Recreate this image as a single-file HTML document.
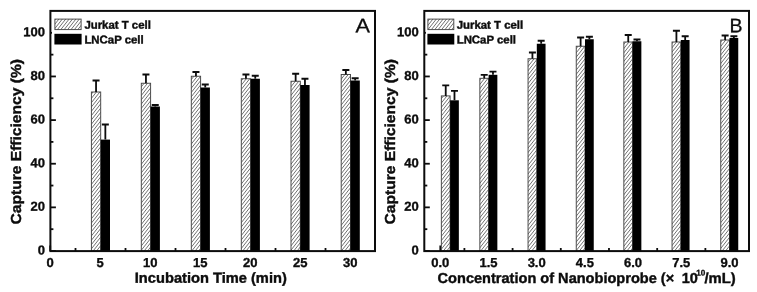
<!DOCTYPE html>
<html><head><meta charset="utf-8"><title>Capture efficiency</title>
<style>
html,body{margin:0;padding:0;background:#fff;}
svg{display:block;font-family:"Liberation Sans",Arial,sans-serif;text-rendering:geometricPrecision;filter:blur(0.4px);}
.tk{font-size:13px;font-weight:bold;fill:#0c0c0c;stroke:#0c0c0c;stroke-width:0.35px;}
.ti{font-size:14.5px;font-weight:bold;fill:#0c0c0c;stroke:#0c0c0c;stroke-width:0.4px;}
.lg{font-size:11.4px;font-weight:bold;fill:#0c0c0c;stroke:#0c0c0c;stroke-width:0.4px;}
.pl{font-size:19.5px;fill:#0c0c0c;stroke:#0c0c0c;stroke-width:0.3px;}
</style></head><body>
<svg width="757" height="292" viewBox="0 0 757 292">
<rect width="757" height="292" fill="#fff"/>

<path d="M50.4 251.00h5.5" stroke="#0c0c0c" stroke-width="1.8"/>
<path d="M50.4 229.18h3" stroke="#0c0c0c" stroke-width="1.8"/>
<path d="M50.4 207.36h5.5" stroke="#0c0c0c" stroke-width="1.8"/>
<path d="M50.4 185.55h3" stroke="#0c0c0c" stroke-width="1.8"/>
<path d="M50.4 163.73h5.5" stroke="#0c0c0c" stroke-width="1.8"/>
<path d="M50.4 141.91h3" stroke="#0c0c0c" stroke-width="1.8"/>
<path d="M50.4 120.09h5.5" stroke="#0c0c0c" stroke-width="1.8"/>
<path d="M50.4 98.27h3" stroke="#0c0c0c" stroke-width="1.8"/>
<path d="M50.4 76.45h5.5" stroke="#0c0c0c" stroke-width="1.8"/>
<path d="M50.4 54.64h3" stroke="#0c0c0c" stroke-width="1.8"/>
<path d="M50.4 32.82h5.5" stroke="#0c0c0c" stroke-width="1.8"/>
<path d="M50.20 251v-5.5" stroke="#0c0c0c" stroke-width="1.8"/>
<path d="M100.20 251v-5.5" stroke="#0c0c0c" stroke-width="1.8"/>
<path d="M150.20 251v-5.5" stroke="#0c0c0c" stroke-width="1.8"/>
<path d="M200.20 251v-5.5" stroke="#0c0c0c" stroke-width="1.8"/>
<path d="M250.20 251v-5.5" stroke="#0c0c0c" stroke-width="1.8"/>
<path d="M300.20 251v-5.5" stroke="#0c0c0c" stroke-width="1.8"/>
<path d="M350.20 251v-5.5" stroke="#0c0c0c" stroke-width="1.8"/>
<path d="M75.50 251v-3" stroke="#0c0c0c" stroke-width="1.8"/>
<path d="M125.50 251v-3" stroke="#0c0c0c" stroke-width="1.8"/>
<path d="M175.50 251v-3" stroke="#0c0c0c" stroke-width="1.8"/>
<path d="M225.50 251v-3" stroke="#0c0c0c" stroke-width="1.8"/>
<path d="M275.50 251v-3" stroke="#0c0c0c" stroke-width="1.8"/>
<path d="M325.50 251v-3" stroke="#0c0c0c" stroke-width="1.8"/>
<path d="M424.3 251.00h5.5" stroke="#0c0c0c" stroke-width="1.8"/>
<path d="M424.3 229.18h3" stroke="#0c0c0c" stroke-width="1.8"/>
<path d="M424.3 207.36h5.5" stroke="#0c0c0c" stroke-width="1.8"/>
<path d="M424.3 185.55h3" stroke="#0c0c0c" stroke-width="1.8"/>
<path d="M424.3 163.73h5.5" stroke="#0c0c0c" stroke-width="1.8"/>
<path d="M424.3 141.91h3" stroke="#0c0c0c" stroke-width="1.8"/>
<path d="M424.3 120.09h5.5" stroke="#0c0c0c" stroke-width="1.8"/>
<path d="M424.3 98.27h3" stroke="#0c0c0c" stroke-width="1.8"/>
<path d="M424.3 76.45h5.5" stroke="#0c0c0c" stroke-width="1.8"/>
<path d="M424.3 54.64h3" stroke="#0c0c0c" stroke-width="1.8"/>
<path d="M424.3 32.82h5.5" stroke="#0c0c0c" stroke-width="1.8"/>
<path d="M440.30 251v-5.5" stroke="#0c0c0c" stroke-width="1.8"/>
<path d="M488.50 251v-5.5" stroke="#0c0c0c" stroke-width="1.8"/>
<path d="M536.69 251v-5.5" stroke="#0c0c0c" stroke-width="1.8"/>
<path d="M584.88 251v-5.5" stroke="#0c0c0c" stroke-width="1.8"/>
<path d="M633.08 251v-5.5" stroke="#0c0c0c" stroke-width="1.8"/>
<path d="M681.28 251v-5.5" stroke="#0c0c0c" stroke-width="1.8"/>
<path d="M729.47 251v-5.5" stroke="#0c0c0c" stroke-width="1.8"/>
<path d="M464.40 251v-3" stroke="#0c0c0c" stroke-width="1.8"/>
<path d="M512.59 251v-3" stroke="#0c0c0c" stroke-width="1.8"/>
<path d="M560.79 251v-3" stroke="#0c0c0c" stroke-width="1.8"/>
<path d="M608.98 251v-3" stroke="#0c0c0c" stroke-width="1.8"/>
<path d="M657.18 251v-3" stroke="#0c0c0c" stroke-width="1.8"/>
<path d="M705.37 251v-3" stroke="#0c0c0c" stroke-width="1.8"/>
<rect x="52.00" y="16" width="104.60" height="31" fill="#fff"/>
<rect x="425.90" y="16" width="103.00" height="31" fill="#fff"/>
<rect x="91.40" y="92.00" width="9.30" height="159.00" fill="#fff"/>
<rect x="141.30" y="83.25" width="9.30" height="167.75" fill="#fff"/>
<rect x="191.30" y="76.25" width="9.30" height="174.75" fill="#fff"/>
<rect x="241.30" y="78.75" width="9.30" height="172.25" fill="#fff"/>
<rect x="291.00" y="81.25" width="9.30" height="169.75" fill="#fff"/>
<rect x="341.20" y="74.50" width="9.30" height="176.50" fill="#fff"/>
<rect x="54.90" y="19.10" width="26.20" height="10.50" fill="#fff"/>
<rect x="441.35" y="95.90" width="8.75" height="155.10" fill="#fff"/>
<rect x="479.85" y="78.30" width="8.75" height="172.70" fill="#fff"/>
<rect x="528.05" y="58.75" width="8.75" height="192.25" fill="#fff"/>
<rect x="576.25" y="46.25" width="8.75" height="204.75" fill="#fff"/>
<rect x="623.85" y="42.00" width="8.75" height="209.00" fill="#fff"/>
<rect x="672.05" y="42.00" width="8.75" height="209.00" fill="#fff"/>
<rect x="720.75" y="40.00" width="8.75" height="211.00" fill="#fff"/>
<rect x="427.90" y="19.10" width="25.90" height="10.50" fill="#fff"/>
<defs><clipPath id="hc">
<rect x="91.40" y="92.00" width="9.30" height="159.00"/>
<rect x="141.30" y="83.25" width="9.30" height="167.75"/>
<rect x="191.30" y="76.25" width="9.30" height="174.75"/>
<rect x="241.30" y="78.75" width="9.30" height="172.25"/>
<rect x="291.00" y="81.25" width="9.30" height="169.75"/>
<rect x="341.20" y="74.50" width="9.30" height="176.50"/>
<rect x="54.90" y="19.10" width="26.20" height="10.50"/>
<rect x="441.35" y="95.90" width="8.75" height="155.10"/>
<rect x="479.85" y="78.30" width="8.75" height="172.70"/>
<rect x="528.05" y="58.75" width="8.75" height="192.25"/>
<rect x="576.25" y="46.25" width="8.75" height="204.75"/>
<rect x="623.85" y="42.00" width="8.75" height="209.00"/>
<rect x="672.05" y="42.00" width="8.75" height="209.00"/>
<rect x="720.75" y="40.00" width="8.75" height="211.00"/>
<rect x="427.90" y="19.10" width="25.90" height="10.50"/>
</clipPath></defs>
<path clip-path="url(#hc)" d="M-159.3 252l199.3 -252M-155.9 252l199.3 -252M-152.5 252l199.3 -252M-149.1 252l199.3 -252M-145.7 252l199.3 -252M-142.3 252l199.3 -252M-138.9 252l199.3 -252M-135.5 252l199.3 -252M-132.1 252l199.3 -252M-128.7 252l199.3 -252M-125.3 252l199.3 -252M-121.9 252l199.3 -252M-118.5 252l199.3 -252M-115.1 252l199.3 -252M-111.7 252l199.3 -252M-108.3 252l199.3 -252M-104.9 252l199.3 -252M-101.5 252l199.3 -252M-98.1 252l199.3 -252M-94.7 252l199.3 -252M-91.3 252l199.3 -252M-87.9 252l199.3 -252M-84.5 252l199.3 -252M-81.1 252l199.3 -252M-77.7 252l199.3 -252M-74.3 252l199.3 -252M-70.9 252l199.3 -252M-67.5 252l199.3 -252M-64.1 252l199.3 -252M-60.7 252l199.3 -252M-57.3 252l199.3 -252M-53.9 252l199.3 -252M-50.5 252l199.3 -252M-47.1 252l199.3 -252M-43.7 252l199.3 -252M-40.3 252l199.3 -252M-36.9 252l199.3 -252M-33.5 252l199.3 -252M-30.1 252l199.3 -252M-26.7 252l199.3 -252M-23.3 252l199.3 -252M-19.9 252l199.3 -252M-16.5 252l199.3 -252M-13.1 252l199.3 -252M-9.7 252l199.3 -252M-6.3 252l199.3 -252M-2.9 252l199.3 -252M0.5 252l199.3 -252M3.9 252l199.3 -252M7.3 252l199.3 -252M10.7 252l199.3 -252M14.1 252l199.3 -252M17.5 252l199.3 -252M20.9 252l199.3 -252M24.3 252l199.3 -252M27.7 252l199.3 -252M31.1 252l199.3 -252M34.5 252l199.3 -252M37.9 252l199.3 -252M41.3 252l199.3 -252M44.7 252l199.3 -252M48.1 252l199.3 -252M51.5 252l199.3 -252M54.9 252l199.3 -252M58.3 252l199.3 -252M61.7 252l199.3 -252M65.1 252l199.3 -252M68.5 252l199.3 -252M71.9 252l199.3 -252M75.3 252l199.3 -252M78.7 252l199.3 -252M82.1 252l199.3 -252M85.5 252l199.3 -252M88.9 252l199.3 -252M92.3 252l199.3 -252M95.7 252l199.3 -252M99.1 252l199.3 -252M102.5 252l199.3 -252M105.9 252l199.3 -252M109.3 252l199.3 -252M112.7 252l199.3 -252M116.1 252l199.3 -252M119.5 252l199.3 -252M122.9 252l199.3 -252M126.3 252l199.3 -252M129.7 252l199.3 -252M133.1 252l199.3 -252M136.5 252l199.3 -252M139.9 252l199.3 -252M143.3 252l199.3 -252M146.7 252l199.3 -252M150.1 252l199.3 -252M153.5 252l199.3 -252M156.9 252l199.3 -252M160.3 252l199.3 -252M163.7 252l199.3 -252M167.1 252l199.3 -252M170.5 252l199.3 -252M173.9 252l199.3 -252M177.3 252l199.3 -252M180.7 252l199.3 -252M184.1 252l199.3 -252M187.5 252l199.3 -252M190.9 252l199.3 -252M194.3 252l199.3 -252M197.7 252l199.3 -252M201.1 252l199.3 -252M204.5 252l199.3 -252M207.9 252l199.3 -252M211.3 252l199.3 -252M214.7 252l199.3 -252M218.1 252l199.3 -252M221.5 252l199.3 -252M224.9 252l199.3 -252M228.3 252l199.3 -252M231.7 252l199.3 -252M235.1 252l199.3 -252M238.5 252l199.3 -252M241.9 252l199.3 -252M245.3 252l199.3 -252M248.7 252l199.3 -252M252.1 252l199.3 -252M255.5 252l199.3 -252M258.9 252l199.3 -252M262.3 252l199.3 -252M265.7 252l199.3 -252M269.1 252l199.3 -252M272.5 252l199.3 -252M275.9 252l199.3 -252M279.3 252l199.3 -252M282.7 252l199.3 -252M286.1 252l199.3 -252M289.5 252l199.3 -252M292.9 252l199.3 -252M296.3 252l199.3 -252M299.7 252l199.3 -252M303.1 252l199.3 -252M306.5 252l199.3 -252M309.9 252l199.3 -252M313.3 252l199.3 -252M316.7 252l199.3 -252M320.1 252l199.3 -252M323.5 252l199.3 -252M326.9 252l199.3 -252M330.3 252l199.3 -252M333.7 252l199.3 -252M337.1 252l199.3 -252M340.5 252l199.3 -252M343.9 252l199.3 -252M347.3 252l199.3 -252M350.7 252l199.3 -252M354.1 252l199.3 -252M357.5 252l199.3 -252M360.9 252l199.3 -252M364.3 252l199.3 -252M367.7 252l199.3 -252M371.1 252l199.3 -252M374.5 252l199.3 -252M377.9 252l199.3 -252M381.3 252l199.3 -252M384.7 252l199.3 -252M388.1 252l199.3 -252M391.5 252l199.3 -252M394.9 252l199.3 -252M398.3 252l199.3 -252M401.7 252l199.3 -252M405.1 252l199.3 -252M408.5 252l199.3 -252M411.9 252l199.3 -252M415.3 252l199.3 -252M418.7 252l199.3 -252M422.1 252l199.3 -252M425.5 252l199.3 -252M428.9 252l199.3 -252M432.3 252l199.3 -252M435.7 252l199.3 -252M439.1 252l199.3 -252M442.5 252l199.3 -252M445.9 252l199.3 -252M449.3 252l199.3 -252M452.7 252l199.3 -252M456.1 252l199.3 -252M459.5 252l199.3 -252M462.9 252l199.3 -252M466.3 252l199.3 -252M469.7 252l199.3 -252M473.1 252l199.3 -252M476.5 252l199.3 -252M479.9 252l199.3 -252M483.3 252l199.3 -252M486.7 252l199.3 -252M490.1 252l199.3 -252M493.5 252l199.3 -252M496.9 252l199.3 -252M500.3 252l199.3 -252M503.7 252l199.3 -252M507.1 252l199.3 -252M510.5 252l199.3 -252M513.9 252l199.3 -252M517.3 252l199.3 -252M520.7 252l199.3 -252M524.1 252l199.3 -252M527.5 252l199.3 -252M530.9 252l199.3 -252M534.3 252l199.3 -252M537.7 252l199.3 -252M541.1 252l199.3 -252M544.5 252l199.3 -252M547.9 252l199.3 -252M551.3 252l199.3 -252M554.7 252l199.3 -252M558.1 252l199.3 -252M561.5 252l199.3 -252M564.9 252l199.3 -252M568.3 252l199.3 -252M571.7 252l199.3 -252M575.1 252l199.3 -252M578.5 252l199.3 -252M581.9 252l199.3 -252M585.3 252l199.3 -252M588.7 252l199.3 -252M592.1 252l199.3 -252M595.5 252l199.3 -252M598.9 252l199.3 -252M602.3 252l199.3 -252M605.7 252l199.3 -252M609.1 252l199.3 -252M612.5 252l199.3 -252M615.9 252l199.3 -252M619.3 252l199.3 -252M622.7 252l199.3 -252M626.1 252l199.3 -252M629.5 252l199.3 -252M632.9 252l199.3 -252M636.3 252l199.3 -252M639.7 252l199.3 -252M643.1 252l199.3 -252M646.5 252l199.3 -252M649.9 252l199.3 -252M653.3 252l199.3 -252M656.7 252l199.3 -252M660.1 252l199.3 -252M663.5 252l199.3 -252M666.9 252l199.3 -252M670.3 252l199.3 -252M673.7 252l199.3 -252M677.1 252l199.3 -252M680.5 252l199.3 -252M683.9 252l199.3 -252M687.3 252l199.3 -252M690.7 252l199.3 -252M694.1 252l199.3 -252M697.5 252l199.3 -252M700.9 252l199.3 -252M704.3 252l199.3 -252M707.7 252l199.3 -252M711.1 252l199.3 -252M714.5 252l199.3 -252M717.9 252l199.3 -252M721.3 252l199.3 -252M724.7 252l199.3 -252M728.1 252l199.3 -252M731.5 252l199.3 -252M734.9 252l199.3 -252M738.3 252l199.3 -252M741.7 252l199.3 -252M745.1 252l199.3 -252M748.5 252l199.3 -252M751.9 252l199.3 -252M755.3 252l199.3 -252" stroke="#606060" stroke-width="0.9" fill="none"/>
<rect x="91.40" y="92.00" width="9.30" height="159.00" fill="none" stroke="#454545" stroke-width="0.95"/>
<rect x="100.70" y="139.60" width="9.30" height="111.40" fill="#000"/>
<path d="M96.05 92.00V80.50M92.55 80.50H99.55" stroke="#0c0c0c" stroke-width="1.8" fill="none"/>
<path d="M105.35 139.60V124.50M101.85 124.50H108.85" stroke="#0c0c0c" stroke-width="1.8" fill="none"/>
<rect x="141.30" y="83.25" width="9.30" height="167.75" fill="none" stroke="#454545" stroke-width="0.95"/>
<rect x="150.60" y="106.50" width="9.30" height="144.50" fill="#000"/>
<path d="M145.95 83.25V74.50M142.45 74.50H149.45" stroke="#0c0c0c" stroke-width="1.8" fill="none"/>
<path d="M155.25 106.50V105.00M151.75 105.00H158.75" stroke="#0c0c0c" stroke-width="1.8" fill="none"/>
<rect x="191.30" y="76.25" width="9.30" height="174.75" fill="none" stroke="#454545" stroke-width="0.95"/>
<rect x="200.60" y="87.50" width="9.30" height="163.50" fill="#000"/>
<path d="M195.95 76.25V72.00M192.45 72.00H199.45" stroke="#0c0c0c" stroke-width="1.8" fill="none"/>
<path d="M205.25 87.50V84.50M201.75 84.50H208.75" stroke="#0c0c0c" stroke-width="1.8" fill="none"/>
<rect x="241.30" y="78.75" width="9.30" height="172.25" fill="none" stroke="#454545" stroke-width="0.95"/>
<rect x="250.60" y="78.75" width="9.30" height="172.25" fill="#000"/>
<path d="M245.95 78.75V74.50M242.45 74.50H249.45" stroke="#0c0c0c" stroke-width="1.8" fill="none"/>
<path d="M255.25 78.75V75.75M251.75 75.75H258.75" stroke="#0c0c0c" stroke-width="1.8" fill="none"/>
<rect x="291.00" y="81.25" width="9.30" height="169.75" fill="none" stroke="#454545" stroke-width="0.95"/>
<rect x="300.30" y="85.00" width="9.30" height="166.00" fill="#000"/>
<path d="M295.65 81.25V73.75M292.15 73.75H299.15" stroke="#0c0c0c" stroke-width="1.8" fill="none"/>
<path d="M304.95 85.00V78.75M301.45 78.75H308.45" stroke="#0c0c0c" stroke-width="1.8" fill="none"/>
<rect x="341.20" y="74.50" width="9.30" height="176.50" fill="none" stroke="#454545" stroke-width="0.95"/>
<rect x="350.50" y="80.50" width="9.30" height="170.50" fill="#000"/>
<path d="M345.85 74.50V70.00M342.35 70.00H349.35" stroke="#0c0c0c" stroke-width="1.8" fill="none"/>
<path d="M355.15 80.50V78.25M351.65 78.25H358.65" stroke="#0c0c0c" stroke-width="1.8" fill="none"/>
<rect x="50.4" y="10.9" width="324.6" height="240.2" fill="none" stroke="#0c0c0c" stroke-width="2"/>
<text class="tk" x="44.90" y="254.50" text-anchor="end" transform="rotate(0.03 44.90 254.50)">0</text>
<text class="tk" x="44.90" y="210.86" text-anchor="end" transform="rotate(0.03 44.90 210.86)">20</text>
<text class="tk" x="44.90" y="167.23" text-anchor="end" transform="rotate(0.03 44.90 167.23)">40</text>
<text class="tk" x="44.90" y="123.59" text-anchor="end" transform="rotate(0.03 44.90 123.59)">60</text>
<text class="tk" x="44.90" y="79.95" text-anchor="end" transform="rotate(0.03 44.90 79.95)">80</text>
<text class="tk" x="44.90" y="36.32" text-anchor="end" transform="rotate(0.03 44.90 36.32)">100</text>
<text class="tk" x="50.20" y="267.0" text-anchor="middle" transform="rotate(0.03 50.20 267.0)">0</text>
<text class="tk" x="100.20" y="267.0" text-anchor="middle" transform="rotate(0.03 100.20 267.0)">5</text>
<text class="tk" x="150.20" y="267.0" text-anchor="middle" transform="rotate(0.03 150.20 267.0)">10</text>
<text class="tk" x="200.20" y="267.0" text-anchor="middle" transform="rotate(0.03 200.20 267.0)">15</text>
<text class="tk" x="250.20" y="267.0" text-anchor="middle" transform="rotate(0.03 250.20 267.0)">20</text>
<text class="tk" x="300.20" y="267.0" text-anchor="middle" transform="rotate(0.03 300.20 267.0)">25</text>
<text class="tk" x="350.20" y="267.0" text-anchor="middle" transform="rotate(0.03 350.20 267.0)">30</text>
<text class="ti" x="134.8" y="282.7" textLength="152" lengthAdjust="spacingAndGlyphs" transform="rotate(0.03 134.8 282.7)">Incubation Time (min)</text>
<text class="ti" transform="translate(21.2 224.5) rotate(-90)" textLength="165.5" lengthAdjust="spacingAndGlyphs">Capture Efficiency (%)</text>
<text class="pl" x="355.6" y="32.3" textLength="14.4" lengthAdjust="spacingAndGlyphs" transform="rotate(0.03 355.6 32.3)">A</text>
<rect x="54.9" y="19.1" width="26.199999999999996" height="10.5" fill="none" stroke="#454545" stroke-width="0.95"/>
<rect x="54.4" y="33.8" width="27.199999999999996" height="10.7" fill="#000"/>
<text class="lg" x="84.4" y="28.7" transform="rotate(0.03 84.4 28.7)">Jurkat T cell</text>
<text class="lg" x="84.4" y="43.4" transform="rotate(0.03 84.4 43.4)">LNCaP cell</text>
<rect x="441.35" y="95.90" width="8.75" height="155.10" fill="none" stroke="#454545" stroke-width="0.95"/>
<rect x="450.10" y="100.30" width="8.75" height="150.70" fill="#000"/>
<path d="M445.73 95.90V85.30M442.23 85.30H449.23" stroke="#0c0c0c" stroke-width="1.8" fill="none"/>
<path d="M454.48 100.30V90.80M450.98 90.80H457.98" stroke="#0c0c0c" stroke-width="1.8" fill="none"/>
<rect x="479.85" y="78.30" width="8.75" height="172.70" fill="none" stroke="#454545" stroke-width="0.95"/>
<rect x="488.60" y="74.80" width="8.75" height="176.20" fill="#000"/>
<path d="M484.23 78.30V74.80M480.73 74.80H487.73" stroke="#0c0c0c" stroke-width="1.8" fill="none"/>
<path d="M492.98 74.80V71.60M489.48 71.60H496.48" stroke="#0c0c0c" stroke-width="1.8" fill="none"/>
<rect x="528.05" y="58.75" width="8.75" height="192.25" fill="none" stroke="#454545" stroke-width="0.95"/>
<rect x="536.80" y="43.75" width="8.75" height="207.25" fill="#000"/>
<path d="M532.42 58.75V52.50M528.92 52.50H535.92" stroke="#0c0c0c" stroke-width="1.8" fill="none"/>
<path d="M541.17 43.75V40.75M537.67 40.75H544.67" stroke="#0c0c0c" stroke-width="1.8" fill="none"/>
<rect x="576.25" y="46.25" width="8.75" height="204.75" fill="none" stroke="#454545" stroke-width="0.95"/>
<rect x="585.00" y="39.25" width="8.75" height="211.75" fill="#000"/>
<path d="M580.62 46.25V37.50M577.12 37.50H584.12" stroke="#0c0c0c" stroke-width="1.8" fill="none"/>
<path d="M589.38 39.25V36.75M585.88 36.75H592.88" stroke="#0c0c0c" stroke-width="1.8" fill="none"/>
<rect x="623.85" y="42.00" width="8.75" height="209.00" fill="none" stroke="#454545" stroke-width="0.95"/>
<rect x="632.60" y="41.25" width="8.75" height="209.75" fill="#000"/>
<path d="M628.23 42.00V35.00M624.73 35.00H631.73" stroke="#0c0c0c" stroke-width="1.8" fill="none"/>
<path d="M636.98 41.25V39.50M633.48 39.50H640.48" stroke="#0c0c0c" stroke-width="1.8" fill="none"/>
<rect x="672.05" y="42.00" width="8.75" height="209.00" fill="none" stroke="#454545" stroke-width="0.95"/>
<rect x="680.80" y="40.00" width="8.75" height="211.00" fill="#000"/>
<path d="M676.42 42.00V30.75M672.92 30.75H679.92" stroke="#0c0c0c" stroke-width="1.8" fill="none"/>
<path d="M685.17 40.00V36.25M681.67 36.25H688.67" stroke="#0c0c0c" stroke-width="1.8" fill="none"/>
<rect x="720.75" y="40.00" width="8.75" height="211.00" fill="none" stroke="#454545" stroke-width="0.95"/>
<rect x="729.50" y="38.00" width="8.75" height="213.00" fill="#000"/>
<path d="M725.12 40.00V35.50M721.62 35.50H728.62" stroke="#0c0c0c" stroke-width="1.8" fill="none"/>
<path d="M733.88 38.00V36.25M730.38 36.25H737.38" stroke="#0c0c0c" stroke-width="1.8" fill="none"/>
<rect x="424.3" y="10.9" width="324.7" height="240.2" fill="none" stroke="#0c0c0c" stroke-width="2"/>
<text class="tk" x="418.80" y="254.50" text-anchor="end" transform="rotate(0.03 418.80 254.50)">0</text>
<text class="tk" x="418.80" y="210.86" text-anchor="end" transform="rotate(0.03 418.80 210.86)">20</text>
<text class="tk" x="418.80" y="167.23" text-anchor="end" transform="rotate(0.03 418.80 167.23)">40</text>
<text class="tk" x="418.80" y="123.59" text-anchor="end" transform="rotate(0.03 418.80 123.59)">60</text>
<text class="tk" x="418.80" y="79.95" text-anchor="end" transform="rotate(0.03 418.80 79.95)">80</text>
<text class="tk" x="418.80" y="36.32" text-anchor="end" transform="rotate(0.03 418.80 36.32)">100</text>
<text class="tk" x="440.30" y="267.0" text-anchor="middle" transform="rotate(0.03 440.30 267.0)">0.0</text>
<text class="tk" x="488.50" y="267.0" text-anchor="middle" transform="rotate(0.03 488.50 267.0)">1.5</text>
<text class="tk" x="536.69" y="267.0" text-anchor="middle" transform="rotate(0.03 536.69 267.0)">3.0</text>
<text class="tk" x="584.88" y="267.0" text-anchor="middle" transform="rotate(0.03 584.88 267.0)">4.5</text>
<text class="tk" x="633.08" y="267.0" text-anchor="middle" transform="rotate(0.03 633.08 267.0)">6.0</text>
<text class="tk" x="681.28" y="267.0" text-anchor="middle" transform="rotate(0.03 681.28 267.0)">7.5</text>
<text class="tk" x="729.47" y="267.0" text-anchor="middle" transform="rotate(0.03 729.47 267.0)">9.0</text>
<text class="ti" x="437.6" y="283" textLength="236.6" lengthAdjust="spacingAndGlyphs" transform="rotate(0.03 437.6 283)">Concentration of Nanobioprobe (×</text><text class="ti" x="681.8" y="283" transform="rotate(0.03 681.8 283)">10</text><text class="ti" x="696.3" y="275.6" style="font-size:8.2px;stroke-width:0.3px" transform="rotate(0.03 696.3 275.6)">10</text><text class="ti" x="704.4" y="283" textLength="31.3" lengthAdjust="spacingAndGlyphs" transform="rotate(0.03 704.4 283)">/mL)</text>
<text class="ti" transform="translate(395.1 224.5) rotate(-90)" textLength="165.5" lengthAdjust="spacingAndGlyphs">Capture Efficiency (%)</text>
<text class="pl" x="729.6" y="32.3"  transform="rotate(0.03 729.6 32.3)">B</text>
<rect x="427.9" y="19.1" width="25.900000000000034" height="10.5" fill="none" stroke="#454545" stroke-width="0.95"/>
<rect x="427.4" y="33.8" width="26.900000000000034" height="10.7" fill="#000"/>
<text class="lg" x="456.7" y="28.7" transform="rotate(0.03 456.7 28.7)">Jurkat T cell</text>
<text class="lg" x="456.7" y="43.4" transform="rotate(0.03 456.7 43.4)">LNCaP cell</text>
</svg></body></html>
